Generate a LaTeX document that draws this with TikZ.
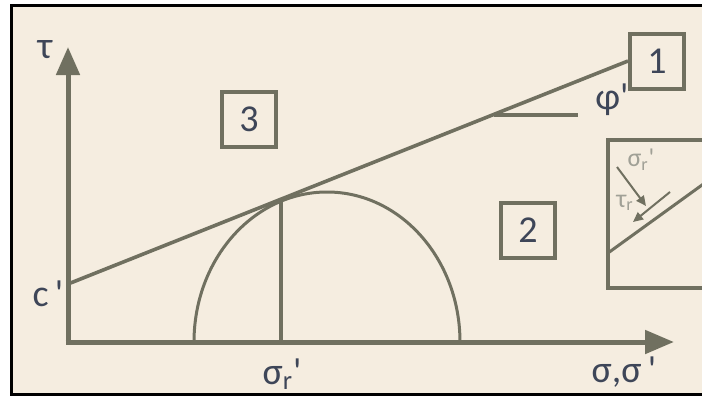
\documentclass[tikz,border=0pt]{standalone}
\usepackage{fontspec}
\setmainfont{Carlito}
\usetikzlibrary{arrows.meta}
\definecolor{paper}{RGB}{245,237,224}
\definecolor{ink}{RGB}{112,112,96}
\definecolor{letter}{RGB}{62,70,88}
\definecolor{faint}{RGB}{160,160,150}
\newcommand{\pr}{\textquotesingle}

\begin{document}
\begin{tikzpicture}[x=0.5pt,y=0.5pt,font=\fontsize{19}{22}\selectfont,
  numbox/.style={draw=ink,line width=2pt,text=letter,minimum width=27pt,minimum height=27.5pt,inner sep=0pt},
  label/.style={text=letter,inner sep=0pt},
  small/.style={text=faint,inner sep=0pt,font=\fontsize{13}{15}\selectfont}]
\useasboundingbox (0,0) rectangle (702,-396);
\clip (0,0) rectangle (702,-396);
\path[fill=paper,draw=black,line width=1.5pt] (11,-5) rectangle (720,-394);
\coordinate (origin) at (68,-342);
\coordinate (y-tip) at (68,-47);
\coordinate (x-tip) at (674,-342);
\draw[ink,line width=2.5pt,-{Triangle[length=14pt,width=11.5pt]}] ([yshift=-1.25pt]origin) -- (y-tip);
\draw[ink,line width=2.5pt,-{Triangle[length=14.5pt,width=11.5pt]}] ([xshift=-1.25pt]origin) -- (x-tip);
\node[label] (tau-label) at (45,-50) {τ};
\node[label] (c-label) at (48,-294) {c\,\pr};
\node[label] (sigma-r-label) at (282,-374) {σ\textsubscript{r}\pr};
\node[label] (sigma-axis-label) at (624,-372) {σ,σ\,\pr};
% boxes
\node[numbox] (box-1) at (657,-61) {1};
\node[numbox] (box-2) at (528,-230) {2};
\node[numbox] (box-3) at (249,-119.5) {3};
% Mohr circle and envelope
\coordinate (c-point) at (68,-284);
\draw[ink,line width=1.5pt] (194,-342) arc[start angle=180,end angle=0,x radius=133,y radius=150];
\draw[ink,line width=1.8pt] (c-point) -- (box-1.west);
\coordinate (tangent-point) at (281,-199.5);
\coordinate (tangent-foot) at (281,-342);
\draw[ink,line width=1.8pt] (tangent-point) -- (tangent-foot);
\coordinate (phi-base) at (494,-115);
\coordinate (phi-end) at (578,-115);
\draw[ink,line width=2pt] (phi-base) -- (phi-end);
\node[label] (phi-label) at (612,-100) {φ\pr};
% element on the failure plane
\path[draw=ink,line width=2pt] (608,-140) rectangle (720,-288);
\coordinate (plane-left) at (608,-253);
\coordinate (plane-right) at (720,-172);
\draw[ink,line width=1.5pt] (plane-left) -- (plane-right);
\node[small] (inset-sigma) at (641,-160) {σ\textsubscript{r}\pr};
\node[small] (inset-tau) at (625,-203) {τ\textsubscript{r}};
\coordinate (normal-start) at (617,-167);
\coordinate (normal-end) at (646,-206);
\draw[ink,line width=1pt,-{Triangle[length=5pt,width=4.5pt]}] (normal-start) -- (normal-end);
\coordinate (shear-start) at (670,-192);
\coordinate (shear-end) at (633,-222);
\draw[ink,line width=1pt,-{Triangle[length=5pt,width=4.5pt]}] (shear-start) -- (shear-end);
\end{tikzpicture}
\end{document}
